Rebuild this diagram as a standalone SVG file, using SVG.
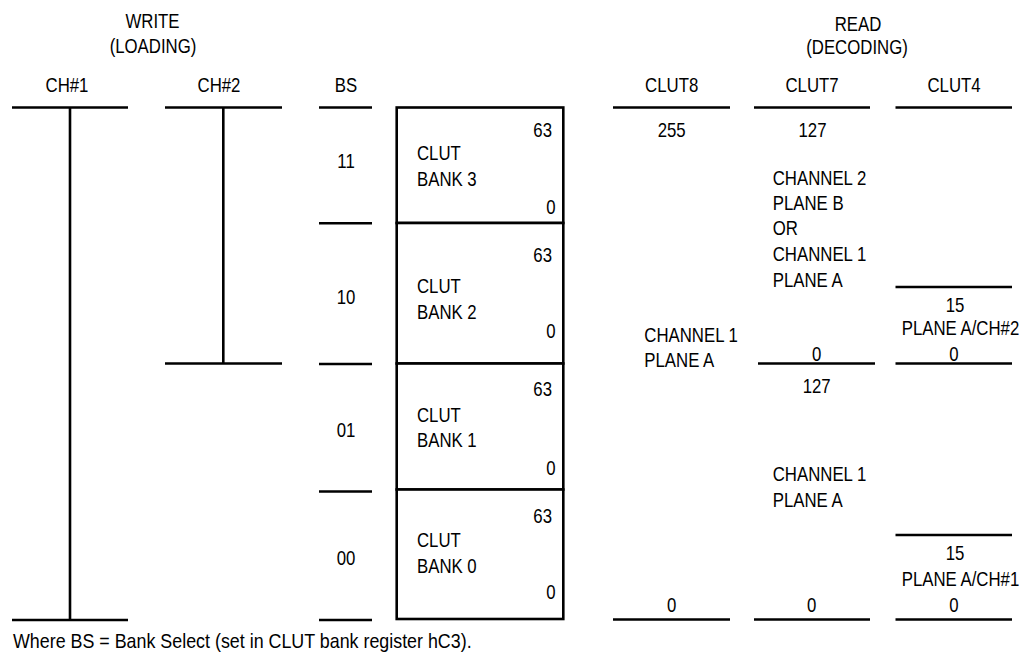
<svg xmlns="http://www.w3.org/2000/svg" width="1025" height="657" viewBox="0 0 1025 657">
<style>
.t{font-family:"Liberation Sans",Arial,sans-serif;font-size:20px;fill:#000}
.m{text-anchor:middle}
.e{text-anchor:end}
.ln{stroke:#000;stroke-width:2.6;fill:none}
.box{stroke:#000;stroke-width:2.6;fill:#fff}
</style>
<rect width="1025" height="657" fill="#fff"/>

<g id="titles">
<text class="t m" transform="translate(152.5,27.5) scale(0.84,1)">WRITE</text>
<text class="t m" transform="translate(153,53) scale(0.84,1)">(LOADING)</text>
<text class="t m" transform="translate(858,31) scale(0.84,1)">READ</text>
<text class="t m" transform="translate(857,54) scale(0.84,1)">(DECODING)</text>
</g>

<g id="lines">
<line class="ln" x1="12" y1="107.5" x2="128" y2="107.5"/>
<line class="ln" x1="165" y1="107.5" x2="282" y2="107.5"/>
<line class="ln" x1="319" y1="107.5" x2="372" y2="107.5"/>
<line class="ln" x1="613" y1="107.5" x2="730" y2="107.5"/>
<line class="ln" x1="754" y1="107.5" x2="870" y2="107.5"/>
<line class="ln" x1="895.5" y1="107.5" x2="1012" y2="107.5"/>
<line class="ln" x1="70" y1="107.5" x2="70" y2="620"/>
<line class="ln" x1="12" y1="620" x2="128" y2="620"/>
<line class="ln" x1="223.3" y1="107.5" x2="223.3" y2="363.5"/>
<line class="ln" x1="165" y1="363.5" x2="282" y2="363.5"/>
<line class="ln" x1="319" y1="223.3" x2="372" y2="223.3"/>
<line class="ln" x1="319" y1="364" x2="372" y2="364"/>
<line class="ln" x1="319" y1="491.5" x2="372" y2="491.5"/>
<line class="ln" x1="319" y1="620" x2="372" y2="620"/>
<line class="ln" x1="895.5" y1="287" x2="1012" y2="287"/>
<line class="ln" x1="758" y1="363.5" x2="875" y2="363.5"/>
<line class="ln" x1="895.5" y1="363.5" x2="1012" y2="363.5"/>
<line class="ln" x1="895.5" y1="535" x2="1012" y2="535"/>
<line class="ln" x1="613" y1="619.5" x2="730" y2="619.5"/>
<line class="ln" x1="754" y1="619.5" x2="870" y2="619.5"/>
<line class="ln" x1="895.5" y1="619.5" x2="1012" y2="619.5"/>
</g>

<g id="write-columns">
<text class="t m" transform="translate(67,91.5) scale(0.84,1)">CH#1</text>
<text class="t m" transform="translate(219,91.5) scale(0.84,1)">CH#2</text>
<text class="t m" transform="translate(346,91.5) scale(0.84,1)">BS</text>
<text class="t m" transform="translate(346,168.3) scale(0.84,1)">11</text>
<text class="t m" transform="translate(346,304) scale(0.84,1)">10</text>
<text class="t m" transform="translate(346,437.3) scale(0.84,1)">01</text>
<text class="t m" transform="translate(346,565) scale(0.84,1)">00</text>
</g>

<g id="clut-bank-3">
<rect class="box" x="396.7" y="107.5" width="166.6" height="115.5"/>
<text class="t e" transform="translate(552,137) scale(0.84,1)">63</text>
<text class="t" transform="translate(417,160) scale(0.84,1)">CLUT</text>
<text class="t" transform="translate(417,185.7) scale(0.84,1)">BANK 3</text>
<text class="t e" transform="translate(555.5,214) scale(0.84,1)">0</text>
</g>
<g id="clut-bank-2">
<rect class="box" x="396.7" y="223" width="166.6" height="140.5"/>
<text class="t e" transform="translate(552,261.7) scale(0.84,1)">63</text>
<text class="t" transform="translate(417,293.3) scale(0.84,1)">CLUT</text>
<text class="t" transform="translate(417,319.3) scale(0.84,1)">BANK 2</text>
<text class="t e" transform="translate(555.5,338.3) scale(0.84,1)">0</text>
</g>
<g id="clut-bank-1">
<rect class="box" x="396.7" y="363.5" width="166.6" height="126"/>
<text class="t e" transform="translate(552,396) scale(0.84,1)">63</text>
<text class="t" transform="translate(417,421.7) scale(0.84,1)">CLUT</text>
<text class="t" transform="translate(417,447.3) scale(0.84,1)">BANK 1</text>
<text class="t e" transform="translate(555.5,475) scale(0.84,1)">0</text>
</g>
<g id="clut-bank-0">
<rect class="box" x="396.7" y="489.5" width="166.6" height="129.5"/>
<text class="t e" transform="translate(552,523.3) scale(0.84,1)">63</text>
<text class="t" transform="translate(417,546.7) scale(0.84,1)">CLUT</text>
<text class="t" transform="translate(417,573.3) scale(0.84,1)">BANK 0</text>
<text class="t e" transform="translate(555.5,599.3) scale(0.84,1)">0</text>
</g>

<g id="clut8">
<text class="t m" transform="translate(671.7,91.5) scale(0.84,1)">CLUT8</text>
<text class="t m" transform="translate(671.7,136.7) scale(0.84,1)">255</text>
<text class="t" transform="translate(644.3,341.7) scale(0.84,1)">CHANNEL 1</text>
<text class="t" transform="translate(644.3,366.7) scale(0.84,1)">PLANE A</text>
<text class="t m" transform="translate(671.7,611.5) scale(0.84,1)">0</text>
</g>

<g id="clut7">
<text class="t m" transform="translate(812,91.5) scale(0.84,1)">CLUT7</text>
<text class="t m" transform="translate(812.5,136.7) scale(0.84,1)">127</text>
<text class="t" transform="translate(772.7,185) scale(0.84,1)">CHANNEL 2</text>
<text class="t" transform="translate(772.7,210) scale(0.84,1)">PLANE B</text>
<text class="t" transform="translate(772.7,235) scale(0.84,1)">OR</text>
<text class="t" transform="translate(772.7,261) scale(0.84,1)">CHANNEL 1</text>
<text class="t" transform="translate(772.7,286.7) scale(0.84,1)">PLANE A</text>
<text class="t m" transform="translate(816.7,360.5) scale(0.84,1)">0</text>
<text class="t m" transform="translate(816.7,393) scale(0.84,1)">127</text>
<text class="t" transform="translate(772.7,481) scale(0.84,1)">CHANNEL 1</text>
<text class="t" transform="translate(772.7,507) scale(0.84,1)">PLANE A</text>
<text class="t m" transform="translate(811.7,611.5) scale(0.84,1)">0</text>
</g>

<g id="clut4">
<text class="t m" transform="translate(954,91.5) scale(0.84,1)">CLUT4</text>
<text class="t m" transform="translate(955,311.7) scale(0.84,1)">15</text>
<text class="t" transform="translate(901.7,335) scale(0.84,1)">PLANE A/CH#2</text>
<text class="t m" transform="translate(954,360.5) scale(0.84,1)">0</text>
<text class="t m" transform="translate(955,560) scale(0.84,1)">15</text>
<text class="t" transform="translate(901.7,586) scale(0.84,1)">PLANE A/CH#1</text>
<text class="t m" transform="translate(954,611.5) scale(0.84,1)">0</text>
</g>

<g id="footnote">
<text class="t" transform="translate(13,648) scale(0.893,1)">Where BS = Bank Select (set in CLUT bank register hC3).</text>
</g>
</svg>
